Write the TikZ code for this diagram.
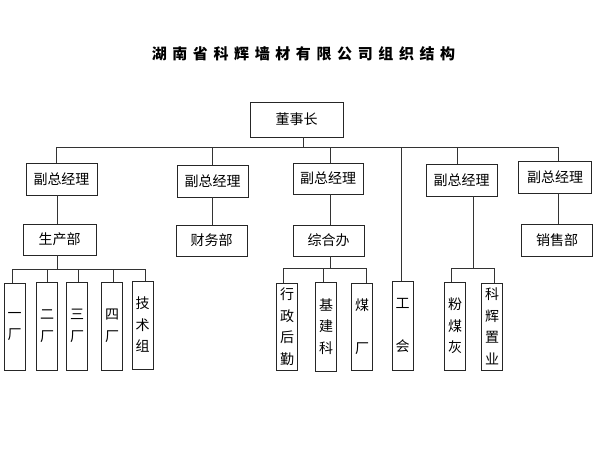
\documentclass[tikz,border=0pt]{standalone}
\usepackage{fontspec}
\setmainfont{Noto Sans CJK SC}
\begin{document}
\begin{tikzpicture}[x=1pt,y=-1pt,
  hbox/.style={draw=black!85, line width=0.8pt, inner sep=0pt, font=\fontsize{14}{16}\selectfont, minimum width=71pt, minimum height=32pt},
  vbox/.style={draw=black!85, line width=0.8pt, inner sep=0pt, align=center, font=\fontsize{14}{21.5}\selectfont, minimum width=20.5pt, minimum height=88pt},
  conn/.style={draw=black!80, line width=0.8pt}]
\useasboundingbox[fill=white] (0,0) rectangle (600,463);
% title
\node[font=\fontsize{15}{18}\selectfont\bfseries] (title) at (303.5,53.5)
 {湖\kern5.6pt 南\kern5.6pt 省\kern5.6pt 科\kern5.6pt 辉\kern5.6pt 墙\kern5.6pt 材\kern5.6pt 有\kern5.6pt 限\kern5.6pt 公\kern5.6pt 司\kern5.6pt 组\kern5.6pt 织\kern5.6pt 结\kern5.6pt 构};
% top
\node[hbox, minimum width=93pt, minimum height=35pt] (dsz) at (296.5,119.5) {董事长};
% vice presidents
\node[hbox] (vp1) at (61.5,179) {副总经理};
\node[hbox] (vp2) at (212.5,181) {副总经理};
\node[hbox, minimum width=70pt, minimum height=31pt] (vp3) at (328,178.5) {副总经理};
\node[hbox] (vp4) at (461.5,180) {副总经理};
\node[hbox, minimum width=73pt] (vp5) at (555,177) {副总经理};
% departments
\node[hbox, minimum width=73pt, minimum height=31pt] (scb) at (59.5,239.5) {生产部};
\node[hbox, minimum height=31pt] (cwb) at (211.5,240.5) {财务部};
\node[hbox, minimum height=31pt] (zhb) at (328.5,240.5) {综合办};
\node[hbox] (xsb) at (557,240.5) {销售部};
% vertical boxes
\node[vbox, minimum width=21pt, minimum height=87pt] (c1) at (14.5,326.5) {一\\厂};
\node[vbox] (c2) at (47,326) {二\\厂};
\node[vbox] (c3) at (77,326) {三\\厂};
\node[vbox] (c4) at (112,326) {四\\厂};
\node[vbox, minimum width=21pt] (c5) at (142.5,325) {技\\术\\组};
\node[vbox, minimum height=87pt] (d1) at (287,326.5) {行\\政\\后\\勤};
\node[vbox, minimum height=89pt] (d2) at (326,326.5) {基\\建\\科};
\node[vbox, minimum height=87pt] (d3) at (362,326.5) {煤\\[21.5pt]厂};
\node[vbox, minimum width=21pt, minimum height=89pt] (gh) at (402.5,325.5) {工\\[21.5pt]会};
\node[vbox] (e1) at (455,326) {粉\\煤\\灰};
\node[vbox, minimum height=87pt] (e2) at (492,326.5) {科\\辉\\置\\业};
% column coordinates
\coordinate (bus) at (0,147);
\coordinate (busA) at (0,269);
\coordinate (busB) at (0,268);
\coordinate (k0) at (303,0);
\coordinate (k1) at (56,0);
\coordinate (k1b) at (57,0);
\coordinate (k2) at (212,0);
\coordinate (k3) at (330,0);
\coordinate (kg) at (401,0);
\coordinate (k4) at (457,0);
\coordinate (k4b) at (473,0);
\coordinate (k5) at (558,0);
\coordinate (a1) at (12,0);
\coordinate (a2) at (47,0);
\coordinate (a3) at (78,0);
\coordinate (a4) at (113,0);
\coordinate (a5) at (145,0);
\coordinate (b1) at (283,0);
\coordinate (b2) at (323,0);
\coordinate (b3) at (366,0);
\coordinate (f1) at (451,0);
\coordinate (f2) at (494,0);
% top bus
\draw[conn] (dsz.south -| k0) -- (k0 |- bus);
\draw[conn] (k1 |- bus) -- (k5 |- bus);
\draw[conn] (vp1.north -| k1) -- (k1 |- bus);
\draw[conn] (vp2.north -| k2) -- (k2 |- bus);
\draw[conn] (vp3.north -| k3) -- (k3 |- bus);
\draw[conn] (gh.north -| kg) -- (kg |- bus);
\draw[conn] (vp4.north -| k4) -- (k4 |- bus);
\draw[conn] (vp5.north -| k5) -- (k5 |- bus);
% vp to departments
\draw[conn] (vp1.south -| k1b) -- (scb.north -| k1b);
\draw[conn] (vp2.south -| k2) -- (cwb.north -| k2);
\draw[conn] (vp3.south -| k3) -- (zhb.north -| k3);
\draw[conn] (vp5.south -| k5) -- (xsb.north -| k5);
% production branch
\draw[conn] (scb.south -| k1b) -- (k1b |- busA);
\draw[conn] (a1 |- busA) -- (a5 |- busA);
\draw[conn] (c1.north -| a1) -- (a1 |- busA);
\draw[conn] (c2.north -| a2) -- (a2 |- busA);
\draw[conn] (c3.north -| a3) -- (a3 |- busA);
\draw[conn] (c4.north -| a4) -- (a4 |- busA);
\draw[conn] (c5.north -| a5) -- (a5 |- busA);
% admin branch
\draw[conn] (zhb.south -| k3) -- (k3 |- busB);
\draw[conn] (b1 |- busB) -- (b3 |- busB);
\draw[conn] (d1.north -| b1) -- (b1 |- busB);
\draw[conn] (d2.north -| b2) -- (b2 |- busB);
\draw[conn] (d3.north -| b3) -- (b3 |- busB);
% vp4 branch
\draw[conn] (vp4.south -| k4b) -- (k4b |- busB);
\draw[conn] (f1 |- busB) -- (f2 |- busB);
\draw[conn] (e1.north -| f1) -- (f1 |- busB);
\draw[conn] (e2.north -| f2) -- (f2 |- busB);
\end{tikzpicture}
\end{document}
